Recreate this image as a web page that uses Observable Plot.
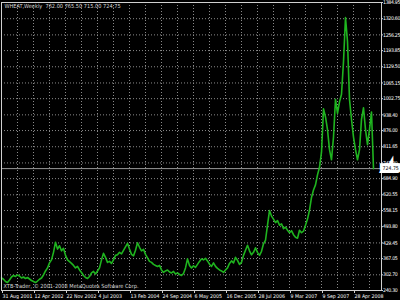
<!DOCTYPE html>
<html>
<head>
<meta charset="utf-8">
<script src="https://cdn.jsdelivr.net/npm/d3@7"></script>
<script src="https://cdn.jsdelivr.net/npm/@observablehq/plot@0.6"></script>
<style>
  html, body { margin: 0; padding: 0; background: #000; }
  #chart svg { display: block; }
  #chart g[aria-label="y-axis tick label"] text { letter-spacing: -0.3px; }
</style>
</head>
<body>
<div id="chart"></div>
<script>
// Weekly closes (every second bar), WHEAT, Aug 2001 – 2008
const closes = [
  290, 285, 276, 272, 282, 294, 300, 296, 302, 298,
  290, 294, 288, 292, 286, 280, 276, 272, 278, 285,
  290, 302, 318, 330, 350, 362, 392, 432, 405, 418,
  398, 408, 380, 362, 355, 348, 340, 330, 336, 322,
  312, 300, 292, 288, 296, 310, 316, 306, 318, 330,
  362, 388, 372, 352, 356, 348, 362, 380, 382, 392,
  386, 400, 414, 428, 405, 384, 378, 400, 430, 412,
  398, 404, 384, 370, 356, 352, 344, 340, 336, 340,
  322, 312, 318, 322, 314, 310, 316, 306, 310, 304,
  300, 308, 330, 366, 340, 330, 338, 332, 344, 356,
  366, 362, 368, 358, 345, 336, 350, 336, 328, 322,
  318, 312, 322, 330, 348, 358, 350, 372, 360, 344,
  352, 380, 400, 420, 398, 382, 392, 410, 392, 380,
  396, 426, 440, 500, 558, 536, 524, 510, 518, 500,
  505, 486, 492, 480, 470, 478, 462, 452, 448, 480,
  470, 476, 500, 524, 560, 610, 640, 660, 700, 730,
  790, 962, 930, 880, 800, 760, 850, 1000, 944, 990,
  1020, 1150, 1325, 1230, 1000, 920, 850, 800, 760, 800,
  920, 966, 880, 820, 880, 950, 724.75
];
const barsPerPoint = 2;

const priceTicks = [240.30, 302.70, 367.05, 429.45, 493.80, 558.15, 620.55, 684.90,
  747.30, 811.65, 876.00, 938.40, 1002.75, 1065.15, 1129.50, 1193.85, 1256.25, 1320.60, 1384.95];

const dateLabels = ["31 Aug 2001", "12 Apr 2002", "22 Nov 2002", "4 Jul 2003", "13 Feb 2004",
  "24 Sep 2004", "6 May 2005", "16 Dec 2005", "28 Jul 2006", "9 Mar 2007", "9 Sep 2007", "28 Apr 2008"];
const barsPerLabel = 32;
const barsPerGrid = 16;
const totalBars = 380;

const header = ["WHEAT,Weekly  762.00 765.50 715.00 724.75"];
const copyright = ["XTB-Trader, © 2001-2008 MetaQuotes Software Corp."];
const lastClose = [724.75];

const labelTicks = dateLabels.map((_, i) => i * barsPerLabel);
const gridTicks = d3.range(barsPerGrid, totalBars, barsPerGrid);
const font = "'Liberation Sans Narrow', 'Arial Narrow', 'DejaVu Sans Condensed', sans-serif";

const chart = Plot.plot({
  width: 400,
  height: 300,
  marginLeft: 1,
  marginRight: 19,
  marginTop: 2,
  marginBottom: 10,
  style: { background: "#000", color: "#fff", fontFamily: font, fontSize: "5.2px" },
  x: { domain: [0, totalBars], axis: null },
  y: { domain: [priceTicks[0], priceTicks[priceTicks.length - 1]], axis: null },
  marks: [
    Plot.ruleY(priceTicks, { stroke: "#8a8a8a", strokeWidth: 1, strokeDasharray: "1,2" }),
    Plot.ruleX(gridTicks, { stroke: "#8a8a8a", strokeWidth: 1, strokeDasharray: "1,2" }),
    Plot.ruleY(lastClose, { stroke: "#9a9a9a", strokeWidth: 1 }),
    Plot.line(closes, {
      x: (d, i) => i * barsPerPoint,
      y: d => d,
      stroke: "#1fb41f",
      strokeWidth: 1.6,
      curve: "linear"
    }),
    Plot.frame({ stroke: "#d0d0d0", strokeWidth: 1 }),
    Plot.axisY({
      anchor: "right", ticks: priceTicks, tickFormat: d => d.toFixed(2),
      tickSize: 1, tickPadding: 0.5, label: null, fill: "#fff", stroke: "#d0d0d0"
    }),
    Plot.axisX({
      anchor: "bottom", ticks: labelTicks, tickFormat: i => dateLabels[i / barsPerLabel],
      tickSize: 3, tickPadding: 1, textAnchor: "start", dx: 1, label: null, fill: "#fff", stroke: "#d0d0d0"
    }),
    Plot.text(lastClose, {
      y: d => d, frameAnchor: "right", text: d => d.toFixed(2), textAnchor: "start",
      dx: 1, fill: "#000", stroke: "#fff", strokeWidth: 6, strokeLinejoin: "miter"
    }),
    Plot.text(header, {
      frameAnchor: "top-left", text: d => d, dx: 3, dy: 2, fill: "#d8d8d8", textAnchor: "start", lineAnchor: "top", fontSize: 5.6
    }),
    Plot.text(copyright, {
      frameAnchor: "bottom-left", text: d => d, dx: 2, dy: -3, fill: "#d8d8d8", textAnchor: "start", lineAnchor: "bottom", fontSize: 5.6
    })
  ]
});
document.getElementById("chart").appendChild(chart);
</script>
</body>
</html>
